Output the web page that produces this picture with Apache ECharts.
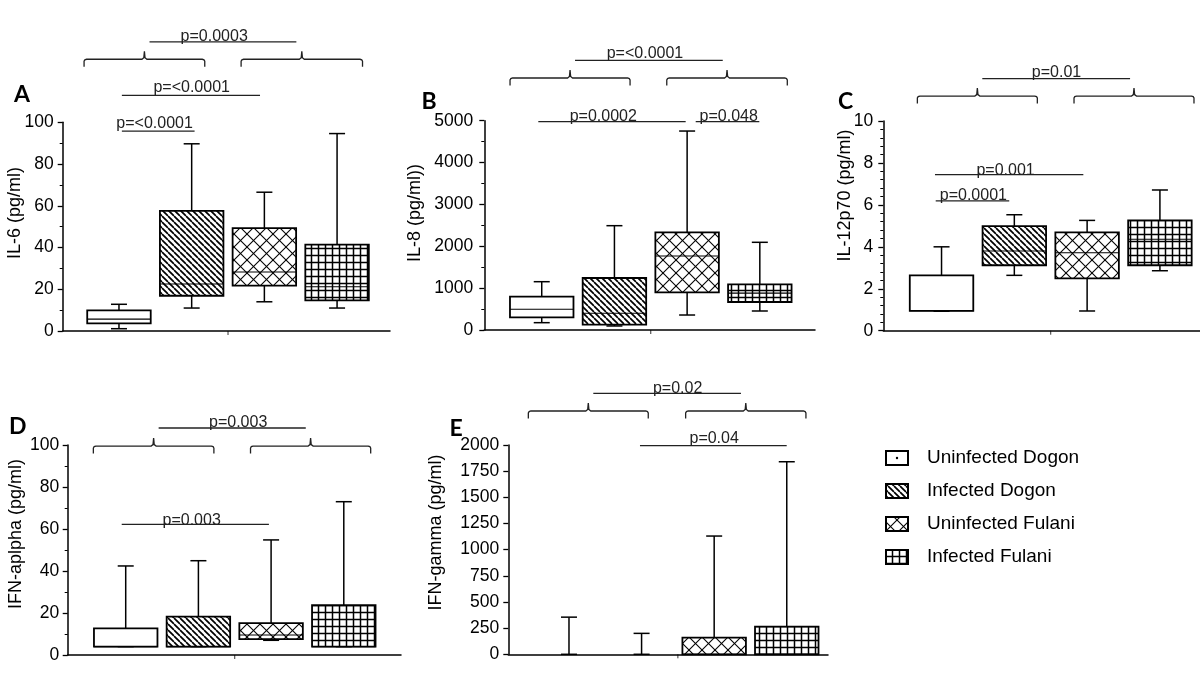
<!DOCTYPE html>
<html>
<head>
<meta charset="utf-8">
<script src="https://cdn.jsdelivr.net/npm/echarts@6/dist/echarts.min.js"></script>
<style>
  html, body { margin: 0; padding: 0; background: #fff; }
  #chart { width: 1200px; height: 697px; }
</style>
</head>
<body>
<div id="chart"></div>
<script>
// groups and box positions
const groups = ['Uninfected Dogon', 'Infected Dogon', 'Uninfected Fulani', 'Infected Fulani'];
const positions = [1, 2, 3, 4];

// A: IL-6
const il6Min = [1.1, 11, 14, 11];
const il6Q1 = [3.7, 16.9, 21.7, 14.7];
const il6Med = [5.7, 22.5, 28.3, 21.2];
const il6Q3 = [9.9, 57.6, 49.3, 41.4];
const il6Max = [12.8, 89.7, 66.5, 94.6];

// B: IL-8
const il8Min = [175, 96, 358, 454];
const il8Q1 = [303, 127, 900, 669];
const il8Med = [494, 399, 1768, 880];
const il8Q3 = [795, 1242, 2334, 1092];
const il8Max = [1154, 2492, 4753, 2095];

// C: IL-12p70
const il12Min = [0.93, 2.64, 0.94, 2.86];
const il12Q1 = [0.95, 3.12, 2.5, 3.12];
const il12Med = [0.95, 3.8, 3.72, 4.36];
const il12Q3 = [2.64, 4.99, 4.69, 5.26];
const il12Max = [4.0, 5.53, 5.26, 6.71];

// D: IFN-alpha
const ifnaMin = [4, 4, 7, 4];
const ifnaQ1 = [4, 4, 7.6, 4];
const ifnaMed = [4, 4, 9.5, 4];
const ifnaQ3 = [12.7, 18.3, 15.2, 23.7];
const ifnaMax = [42.4, 44.9, 54.8, 73];

// E: IFN-gamma
const ifngMin = [0, 0, 0, 0];
const ifngQ1 = [0, 0, 0, 0];
const ifngMed = [0, 0, 0, 0];
const ifngQ3 = [0, 0, 159, 264];
const ifngMax = [355, 200, 1130, 1840];

// y-axis tick ranges
const yMaxes = [100, 5000, 10, 100, 2000];
const yIntervals = [20, 1000, 2, 20, 250];

// p-value labels
const pLabelsA = ['p=0.0003', 'p=<0.0001', 'p=<0.0001'];
const pLabelsB = ['p=<0.0001', 'p=0.0002', 'p=0.048'];
const pLabelsC = ['p=0.01', 'p=0.001', 'p=0.0001'];
const pLabelsD = ['p=0.003', 'p=0.003'];
const pLabelsE = ['p=0.02', 'p=0.04'];

const FONT = 'Liberation Sans, Arial, sans-serif';
const BOX_W = 63.5;
const CAP_W = 16;

const panels = [
  { letter: 'A', lx: 22, ly: 95, yName: 'IL-6 (pg/ml)', tx: 15.5, ty: 213,
    grid: { left: 62.7, top: 122.3, width: 327.3, height: 208.7 }, xMin: 0.226, xMax: 4.728,
    minor: 2, labelMargin: 9,
    stats: [il6Min, il6Q1, il6Med, il6Q3, il6Max],
    bracketY: 130.2, spans: [[0.52, 2.18], [2.68, 4.35]],
    lines: [[1.42, 3.44, 138.5, 2.31, 141.1], [1.04, 2.94, 112.9, 2.0, 116.4], [1.04, 2.04, 95.8, 1.49, 99.4]],
    labels: pLabelsA },
  { letter: 'B', lx: 429, ly: 102, yName: 'IL-8 (pg/ml))', tx: 415, ty: 213,
    grid: { left: 484.3, top: 120.7, width: 330.7, height: 209.3 }, xMin: 0.21, xMax: 4.759,
    minor: 2, labelMargin: 11,
    stats: [il8Min, il8Q1, il8Med, il8Q3, il8Max],
    bracketY: 6020, spans: [[0.564, 2.215], [2.72, 4.378]],
    lines: [[1.458, 3.49, 6443, 2.42, 6594], [0.953, 2.98, 4976, 1.847, 5089], [3.118, 3.993, 4976, 3.572, 5089]],
    labels: pLabelsB },
  { letter: 'C', lx: 845.5, ly: 102, yName: 'IL-12p70 (pg/ml)', tx: 845.5, ty: 195.5,
    grid: { left: 883.3, top: 121, width: 330.7, height: 209.7 }, xMin: 0.2, xMax: 4.743,
    minor: 5, labelMargin: 10,
    stats: [il12Min, il12Q1, il12Med, il12Q3, il12Max],
    bracketY: 11.19, spans: [[0.668, 2.316], [2.82, 4.468]],
    lines: [[1.56, 3.59, 12.02, 2.58, 12.31], [0.91, 2.948, 7.44, 1.88, 7.64], [0.92, 1.93, 6.19, 1.437, 6.42]],
    labels: pLabelsC },
  { letter: 'D', lx: 17.7, ly: 427, yName: 'IFN-aplpha (pg/ml)', tx: 15.8, ty: 534,
    grid: { left: 67.7, top: 445, width: 333.3, height: 210 }, xMin: 0.202, xMax: 4.787,
    minor: 2, labelMargin: 8.5,
    stats: [ifnaMin, ifnaQ1, ifnaMed, ifnaQ3, ifnaMax],
    bracketY: 99.5, spans: [[0.555, 2.213], [2.717, 4.37]],
    lines: [[1.453, 3.477, 108.1, 2.547, 110.5], [0.945, 2.97, 62.2, 1.907, 63.8]],
    labels: pLabelsD },
  { letter: 'E', lx: 456, ly: 429, yName: 'IFN-gamma (pg/ml)', tx: 435.8, ty: 532.5,
    grid: { left: 508.3, top: 445, width: 319.7, height: 209.3 }, xMin: 0.164, xMax: 4.568,
    minor: 0, labelMargin: 9,
    stats: [ifngMin, ifngQ1, ifngMed, ifngQ3, ifngMax],
    bracketY: 2325, spans: [[0.44, 2.092], [2.607, 4.264]],
    lines: [[1.335, 3.369, 2494, 2.497, 2542], [1.978, 3.999, 1994, 3.0, 2058]],
    labels: pLabelsE }
];

function makeFill(kind) {
  if (kind === 'plain') return '#fff';
  const s = kind === 'hatch' ? 6 : kind === 'cross' ? 13 : 7;
  const c = document.createElement('canvas');
  c.width = s; c.height = s;
  const g = c.getContext('2d');
  g.fillStyle = '#fff';
  g.fillRect(0, 0, s, s);
  g.strokeStyle = '#000';
  if (kind === 'hatch') {
    g.lineWidth = 1.7;
    for (const k of [-s, 0, s]) {
      g.beginPath(); g.moveTo(k, 0); g.lineTo(k + s, s); g.stroke();
    }
  } else if (kind === 'cross') {
    g.lineWidth = 1.1;
    for (const k of [-s, 0, s]) {
      g.beginPath(); g.moveTo(k, 0); g.lineTo(k + s, s); g.stroke();
      g.beginPath(); g.moveTo(k + s, 0); g.lineTo(k, s); g.stroke();
    }
  } else {
    g.lineWidth = 1.5;
    g.beginPath();
    g.moveTo(s / 2, 0); g.lineTo(s / 2, s);
    g.moveTo(0, s / 2); g.lineTo(s, s / 2);
    g.stroke();
  }
  return { image: c, repeat: 'repeat' };
}
const fills = [makeFill('plain'), makeFill('hatch'), makeFill('cross'), makeFill('grid')];

function renderBox(params, api) {
  const x = api.value(0);
  const g = api.value(6);
  const pMin = api.coord([x, api.value(1)]);
  const pQ1 = api.coord([x, api.value(2)]);
  const pMed = api.coord([x, api.value(3)]);
  const pQ3 = api.coord([x, api.value(4)]);
  const pMax = api.coord([x, api.value(5)]);
  const cx = pMed[0], hw = BOX_W / 2, cw = CAP_W / 2;
  const ln = { stroke: '#000', lineWidth: 1.5 };
  const children = [
    { type: 'line', shape: { x1: cx, y1: pQ3[1], x2: cx, y2: pMax[1] }, style: ln },
    { type: 'line', shape: { x1: cx - cw, y1: pMax[1], x2: cx + cw, y2: pMax[1] }, style: ln },
    { type: 'line', shape: { x1: cx, y1: pQ1[1], x2: cx, y2: pMin[1] }, style: ln },
    { type: 'line', shape: { x1: cx - cw, y1: pMin[1], x2: cx + cw, y2: pMin[1] }, style: ln }
  ];
  // a box squashed onto the axis is not drawn
  if (pQ1[1] - pQ3[1] > 0.5) {
    children.push(
      { type: 'rect', shape: { x: cx - hw, y: pQ3[1], width: hw * 2, height: pQ1[1] - pQ3[1] },
        style: { fill: fills[g], stroke: '#000', lineWidth: 1.8 } },
      { type: 'line', shape: { x1: cx - hw, y1: pMed[1], x2: cx + hw, y2: pMed[1] },
        style: { stroke: '#000', lineWidth: 1.1 } }
    );
  }
  return { type: 'group', children: children };
}

const axisLine = { show: true, onZero: false, lineStyle: { color: '#000', width: 1.5 } };

const option = {
  animation: false,
  backgroundColor: '#fff',
  grid: panels.map(p => Object.assign({ outerBoundsMode: 'none', containLabel: false }, p.grid)),
  xAxis: panels.map((p, i) => ({
    gridIndex: i, type: 'value', min: p.xMin, max: p.xMax,
    axisLine: axisLine, axisTick: { show: false }, axisLabel: { show: false }, splitLine: { show: false }
  })),
  yAxis: panels.map((p, i) => ({
    gridIndex: i, type: 'value', min: 0, max: yMaxes[i], interval: yIntervals[i],
    axisLine: axisLine,
    axisTick: { show: true, inside: false, length: 5, lineStyle: { color: '#000', width: 1.3 } },
    minorTick: { show: p.minor > 0, splitNumber: p.minor || 2, length: 3, lineStyle: { color: '#000', width: 1 } },
    axisLabel: { color: '#000', fontSize: 17.5, fontFamily: FONT, margin: p.labelMargin, formatter: v => String(v) },
    splitLine: { show: false }, minorSplitLine: { show: false }
  })),
  series: panels.map((p, i) => ({
    type: 'custom',
    xAxisIndex: i, yAxisIndex: i,
    renderItem: renderBox,
    encode: { x: 0, y: [1, 2, 3, 4, 5] },
    data: positions.map((pos, j) => [pos, p.stats[0][j], p.stats[1][j], p.stats[2][j], p.stats[3][j], p.stats[4][j], j])
  }))
};

const chart = echarts.init(document.getElementById('chart'));
chart.setOption(option);

// annotations: brackets, p-value lines, panel letters, axis titles, legend
const gfx = [];
const annoStyle = { stroke: '#222', lineWidth: 1.3, fill: null };
panels.forEach((p, i) => {
  const px = (x, y) => chart.convertToPixel({ gridIndex: i }, [x, y]);
  p.spans.forEach(([a, b]) => {
    const l = px(a, p.bracketY)[0], r = px(b, p.bracketY)[0];
    const y = px(a, p.bracketY)[1], m = (l + r) / 2;
    gfx.push({
      type: 'polyline',
      shape: { points: [
        [l, y + 7.5], [l, y + 2], [l + 0.8, y + 0.6], [l + 2.5, y],
        [m - 2.5, y], [m - 0.6, y - 1.5], [m, y - 8], [m + 0.6, y - 1.5], [m + 2.5, y],
        [r - 2.5, y], [r - 0.8, y + 0.6], [r, y + 2], [r, y + 7.5]
      ] },
      style: annoStyle
    });
  });
  p.lines.forEach(([x1, x2, y, tx, ty], k) => {
    const a = px(x1, y), b = px(x2, y), t = px(tx, ty);
    gfx.push({ type: 'line', shape: { x1: a[0], y1: a[1], x2: b[0], y2: b[1] }, style: { stroke: '#222', lineWidth: 1.3 } });
    gfx.push({ type: 'text', x: t[0], y: t[1], style: { text: p.labels[k], fill: '#222', font: '16px ' + FONT, align: 'center', verticalAlign: 'middle' } });
  });
  // small mid tick on the x axis
  const mt = px(2.5, 0);
  gfx.push({ type: 'line', shape: { x1: mt[0], y1: mt[1], x2: mt[0], y2: mt[1] + 4 }, style: { stroke: '#333', lineWidth: 1 } });
  gfx.push({ type: 'text', x: p.lx, y: p.ly, style: { text: p.letter, fill: '#000', font: 'bold 23px Lato, Liberation Sans, sans-serif', align: 'center', verticalAlign: 'middle' } });
  gfx.push({ type: 'text', x: p.tx, y: p.ty, rotation: Math.PI / 2, style: { text: p.yName, fill: '#000', font: '18px ' + FONT, align: 'center', verticalAlign: 'middle' } });
});

const legendRows = [458, 491, 524, 557];
groups.forEach((name, j) => {
  const cy = legendRows[j];
  gfx.push({ type: 'rect', shape: { x: 886, y: cy - 7, width: 22, height: 14 }, style: { fill: fills[j], stroke: '#000', lineWidth: 2 } });
  if (j === 0) gfx.push({ type: 'circle', shape: { cx: 897, cy: cy, r: 1.2 }, style: { fill: '#000' } });
  gfx.push({ type: 'text', x: 927, y: cy, style: { text: name, fill: '#000', font: '19px ' + FONT, align: 'left', verticalAlign: 'middle' } });
});

chart.setOption({ graphic: gfx });
</script>
</body>
</html>
